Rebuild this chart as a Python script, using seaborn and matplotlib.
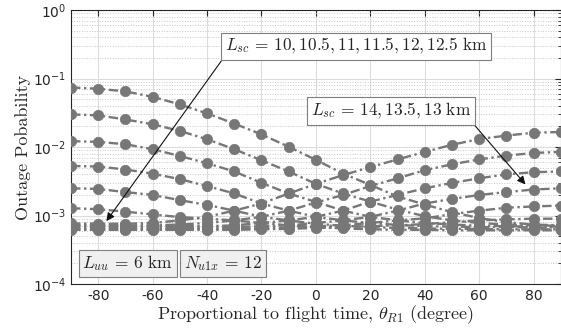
import numpy as np
import pandas as pd
import matplotlib
matplotlib.use("Agg")
import matplotlib.pyplot as plt
import seaborn as sns
from matplotlib.ticker import FixedLocator, FuncFormatter, LogLocator, NullFormatter

# angle samples (degree)
theta = [-90, -80, -70, -60, -50, -40, -30, -20, -10, 0, 10, 20, 30, 40, 50, 60, 70, 80, 90]

# curves falling from the left
d1 = [0.074, 0.071, 0.065, 0.054, 0.042, 0.031, 0.022, 0.0153, 0.0101, 0.0065, 0.0041, 0.0028,
      0.0019, 0.00145, 0.00112, 0.00092, 0.0008, 0.00074, 0.00072]
d2 = [0.030, 0.029, 0.0253, 0.0215, 0.0172, 0.0130, 0.0093, 0.0064, 0.0044, 0.0029, 0.0021, 0.0016,
      0.00122, 0.00098, 0.00085, 0.00078, 0.00074, 0.00072, 0.00071]
d3 = [0.0122, 0.0119, 0.0110, 0.0093, 0.0074, 0.0058, 0.0044, 0.0030, 0.0021, 0.00158, 0.00118,
      0.00096, 0.00085, 0.00078, 0.00074, 0.00071, 0.0007, 0.00069, 0.00069]
d4 = [0.0053, 0.0052, 0.0047, 0.0041, 0.0034, 0.0027, 0.0021, 0.0015, 0.00118, 0.00096, 0.00085,
      0.00078, 0.00073, 0.0007, 0.00069, 0.00068, 0.00068, 0.00067, 0.00067]
d5 = [0.0025, 0.00245, 0.0022, 0.0020, 0.00168, 0.00143, 0.00118, 0.00096, 0.00085, 0.00076,
      0.00071, 0.00068, 0.00066, 0.00065, 0.00064, 0.00064, 0.00063, 0.00063, 0.00063]
d6 = [0.00128, 0.00124, 0.00114, 0.00104, 0.00095, 0.0009, 0.00085, 0.00078, 0.00072, 0.00068,
      0.00065, 0.00063, 0.00062, 0.00062, 0.00061, 0.00061, 0.00061, 0.00061, 0.00061]

# curves rising to the right
a1 = [0.00077, 0.00076, 0.00076, 0.00078, 0.00085, 0.00096, 0.00118, 0.0015, 0.0021, 0.0029,
      0.0039, 0.0051, 0.0066, 0.0085, 0.0108, 0.0131, 0.0147, 0.0162, 0.0166]
a2 = [0.00073, 0.00072, 0.00072, 0.00072, 0.00074, 0.00078, 0.00085, 0.00096, 0.00118, 0.00155,
      0.0020, 0.0027, 0.0035, 0.0046, 0.0056, 0.0066, 0.0075, 0.0082, 0.0085]
a3 = [0.0007, 0.0007, 0.0007, 0.0007, 0.0007, 0.0007, 0.00072, 0.00078, 0.00085, 0.00096,
      0.00118, 0.0016, 0.0020, 0.0025, 0.0030, 0.0035, 0.0040, 0.0043, 0.0044]
a4 = [0.00066, 0.00066, 0.00066, 0.00066, 0.00066, 0.00067, 0.00068, 0.0007, 0.00072, 0.00078,
      0.00085, 0.00096, 0.00118, 0.0015, 0.00175, 0.0020, 0.0022, 0.0024, 0.0025]
a5 = [0.00063, 0.00063, 0.00063, 0.00063, 0.00063, 0.00064, 0.00064, 0.00065, 0.00067, 0.0007,
      0.00072, 0.00078, 0.00085, 0.00091, 0.00105, 0.00118, 0.0013, 0.00136, 0.0014]
a6 = [0.00062, 0.00062, 0.00062, 0.00062, 0.00062, 0.00062, 0.00062, 0.00063, 0.00064, 0.00066,
      0.00068, 0.0007, 0.00072, 0.00075, 0.0008, 0.00085, 0.00088, 0.0009, 0.0009]

curves = {"d1": d1, "d2": d2, "d3": d3, "d4": d4, "d5": d5, "d6": d6,
          "a1": a1, "a2": a2, "a3": a3, "a4": a4, "a5": a5, "a6": a6}

sns.set_style("white")
plt.rcParams['mathtext.fontset'] = 'cm'
plt.rcParams['axes.unicode_minus'] = False
plt.rcParams['font.family'] = ['DejaVu Sans']

gray = '#777777'

fig = plt.figure(figsize=(5.61, 3.35), dpi=100)
ax = fig.add_axes([0.1266, 0.152, 0.873, 0.818])

for name, vals in curves.items():
    sns.lineplot(x=theta, y=vals, ax=ax, color=gray, linestyle=(0, (4, 1.5, 1, 1.5)),
                 linewidth=1.7, marker='o', markersize=7.5, markeredgecolor=gray,
                 markerfacecolor=gray, markeredgewidth=0.5, zorder=3)

ax.set_yscale('log')
ax.set_xlim(-90, 90)
ax.set_ylim(1e-4, 1)
ax.xaxis.set_major_locator(FixedLocator([-80, -60, -40, -20, 0, 20, 40, 60, 80]))
ax.yaxis.set_major_locator(LogLocator(base=10, numticks=10))
ax.yaxis.set_minor_locator(LogLocator(base=10, subs=np.arange(2, 10), numticks=20))
ax.yaxis.set_major_formatter(FuncFormatter(lambda v, p: r'$\mathregular{10^{%d}}$' % round(np.log10(v))))
ax.yaxis.set_minor_formatter(NullFormatter())

ax.grid(True, which='major', color='#dcdcdc', linewidth=0.8)
ax.grid(True, which='minor', axis='y', color='#c8c8c8', linestyle=':', linewidth=0.7)
ax.set_axisbelow(True)
ax.tick_params(which='both', direction='in', top=True, right=True, labelsize=10, colors='#262626')
ax.tick_params(which='major', length=4)
ax.tick_params(which='minor', length=2)
for s in ax.spines.values():
    s.set_color('#262626')
    s.set_linewidth(0.8)

ax.set_xlabel(r'Proportional to flight time, $\theta_{R1}$ (degree)', family='cmr10', fontsize=13, labelpad=0)
ax.set_ylabel('Outage Pobability', family='cmr10', fontsize=13, labelpad=1)

box_w = dict(boxstyle='square,pad=0.22', fc='white', ec='#7f7f7f', lw=0.8)
box_g = dict(boxstyle='square,pad=0.22', fc='#f0f0f0', ec='#7f7f7f', lw=0.8)

ax.annotate(r'$L_{sc}\,=\,10, 10.5, 11, 11.5, 12, 12.5\ \mathrm{km}$', xy=(-77, 8.3e-4),
            xytext=(14.7, 0.294), fontsize=12.5, bbox=box_w, zorder=5, ha='center', va='center',
            arrowprops=dict(arrowstyle='-|>', color='#111111', lw=0.8, shrinkA=0, shrinkB=0,
                            mutation_scale=12, relpos=(0.0, 0.0)))
ax.annotate(r'$L_{sc}\,=\,14, 13.5, 13\ \mathrm{km}$', xy=(77, 2.85e-3),
            xytext=(27.6, 0.0335), fontsize=12.5, bbox=box_w, zorder=5, ha='center', va='center',
            arrowprops=dict(arrowstyle='-|>', color='#111111', lw=0.8, shrinkA=0, shrinkB=0,
                            mutation_scale=12, relpos=(1.0, 0.0)))
ax.text(-69.2, 2.0e-4, r'$L_{uu}\,=\,6\ \mathrm{km}$', fontsize=12.5, bbox=box_g, zorder=5,
        ha='center', va='center')
ax.text(-34.1, 2.0e-4, r'$N_{u1x}\,=\,12$', fontsize=12.5, bbox=box_g, zorder=5,
        ha='center', va='center')

fig.savefig('out.png', dpi=100)
